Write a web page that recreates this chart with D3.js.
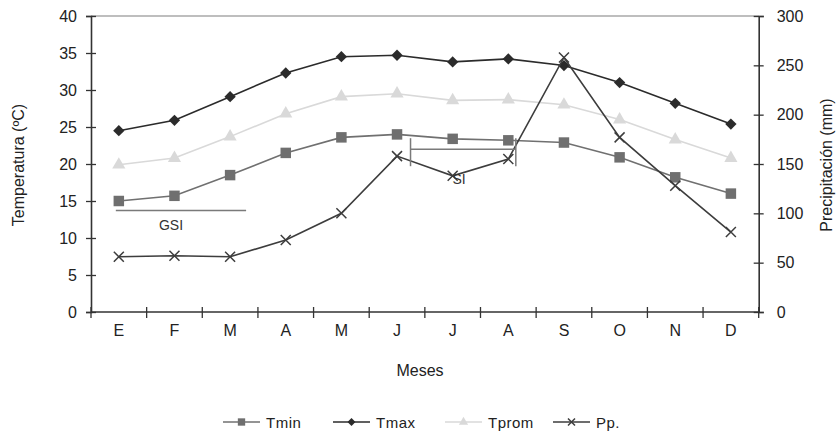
<!DOCTYPE html>
<html><head><meta charset="utf-8">
<script src="https://cdn.jsdelivr.net/npm/d3@7"></script>
<style>body{margin:0;background:#fff}svg{display:block;font-family:"Liberation Sans",Arial,sans-serif}</style>
</head><body>
<svg id="c" width="839" height="433"></svg>
<script>
const months = ["E","F","M","A","M","J","J","A","S","O","N","D"];
const tmin  = [15.0,15.7,18.5,21.5,23.6,24.0,23.4,23.2,22.9,20.9,18.2,16.0];
const tmax  = [24.5,25.9,29.1,32.3,34.5,34.7,33.8,34.2,33.3,31.0,28.2,25.4];
const tprom = [19.9,20.8,23.7,26.8,29.1,29.5,28.6,28.7,28.0,26.0,23.3,20.8];
const pp    = [56,57,56,73,100,158,138,155,258,177,128,81];
const tempTicks = [0,5,10,15,20,25,30,35,40];
const ppTicks = [0,50,100,150,200,250,300];

const svg = d3.select("#c");
const L = 91, R = 758.7, T = 16, B = 312;
const idx = months.map((d,i)=>i);
const x = d3.scaleBand().domain(idx).range([L,R]).padding(0);
const cx = i => x(i) + x.bandwidth()/2;
const yT = d3.scaleLinear().domain([0,40]).range([B,T]);
const yP = d3.scaleLinear().domain([0,300]).range([B,T]);
const axisCol = "#333";

// top border
svg.append("line").attr("x1",L).attr("x2",R).attr("y1",T).attr("y2",T).attr("stroke","#a8a8a8").attr("stroke-width",1.5);

// left axis
const gl = svg.append("g").attr("transform",`translate(${L},0)`)
  .call(d3.axisLeft(yT).tickValues(tempTicks).tickSize(5).tickPadding(9));
gl.selectAll(".tick line").attr("x1",-5).attr("x2",5);
// right axis
const gr = svg.append("g").attr("transform",`translate(${R},0)`)
  .call(d3.axisRight(yP).tickValues(ppTicks).tickSize(5).tickPadding(13));
gr.selectAll(".tick line").attr("x1",-5).attr("x2",5);
// bottom axis (labels)
const gb = svg.append("g").attr("transform",`translate(0,${B})`)
  .call(d3.axisBottom(x).tickFormat(i=>months[i]).tickSize(0).tickPadding(13));
[gl,gr,gb].forEach(g=>{
  g.select(".domain").attr("stroke",axisCol).attr("stroke-width",1.6);
  g.selectAll(".tick line").attr("stroke",axisCol).attr("stroke-width",1.3);
  g.selectAll("text").attr("font-size",16).attr("fill","#222").attr("font-family","Liberation Sans, Arial, sans-serif");
});
gb.select(".domain").attr("d",`M${L},0H${R}`);
// category boundary ticks
const bounds = d3.range(months.length+1).map(i=> L + i*x.step());
svg.append("g").selectAll("line").data(bounds).join("line")
  .attr("x1",d=>d).attr("x2",d=>d).attr("y1",B-5).attr("y2",B+6)
  .attr("stroke",axisCol).attr("stroke-width",1.3);

// titles
svg.append("text").attr("x",420).attr("y",376).attr("text-anchor","middle").attr("font-size",16).attr("fill","#222").text("Meses");
svg.append("text").attr("transform","translate(24,165) rotate(-90)").attr("text-anchor","middle").attr("font-size",16).attr("fill","#222").text("Temperatura (ºC)");
svg.append("text").attr("transform","translate(832,165) rotate(-90)").attr("text-anchor","middle").attr("font-size",16).attr("fill","#222").text("Precipitación (mm)");

// series
const series = [
  {name:"Tmin", data:tmin, y:yT, color:"#6f6f6f", stroke:"#707070", sym:d3.symbolSquare, size:110, rot:0},
  {name:"Tmax", data:tmax, y:yT, color:"#2b2b2b", stroke:"#2b2b2b", sym:d3.symbolSquare, size:64, rot:45},
  {name:"Tprom", data:tprom, y:yT, color:"#d9d9d9", stroke:"#d9d9d9", sym:d3.symbolTriangle, size:75, rot:0},
  {name:"Pp.", data:pp, y:yP, color:"#3d3d3d", stroke:"#3d3d3d", sym:null, size:0, rot:0}
];
const drawOrder = [2,0,1,3];
function marker(g, s, px, py, scale){
  if (s.name==="Pp.") {
    const r = 5*scale;
    g.append("path").attr("d",`M${px-r},${py-r}L${px+r},${py+r}M${px-r},${py+r}L${px+r},${py-r}`)
      .attr("stroke",s.color).attr("stroke-width",1.5).attr("fill","none");
  } else {
    g.append("path").attr("transform",`translate(${px},${py}) rotate(${s.rot})`)
      .attr("d",d3.symbol().type(s.sym).size(s.size*scale*scale)())
      .attr("fill",s.color);
  }
}
drawOrder.forEach(k=>{
  const s = series[k];
  const g = svg.append("g");
  g.append("path").datum(s.data)
    .attr("d",d3.line().x((d,i)=>cx(i)).y(d=>s.y(d)))
    .attr("fill","none").attr("stroke",s.stroke).attr("stroke-width",1.6);
  s.data.forEach((d,i)=>marker(g,s,cx(i),s.y(d),1));
});

// GSI annotation
const gsiY = yT(13.7);
svg.append("line").attr("x1",cx(0)-3).attr("x2",cx(2)+16).attr("y1",gsiY).attr("y2",gsiY).attr("stroke","#7a7a7a").attr("stroke-width",1.5);
svg.append("text").attr("x",171).attr("y",gsiY+19).attr("text-anchor","middle").attr("font-size",14).attr("fill","#333").text("GSI");
// SI annotation
const siY = yT(22.0), siL = cx(5)+13.5, siR = cx(7)+7.5;
const si = svg.append("g").attr("stroke","#7a7a7a").attr("stroke-width",1.5);
si.append("line").attr("x1",siL).attr("x2",siR).attr("y1",siY).attr("y2",siY);
si.append("line").attr("x1",siL).attr("x2",siL).attr("y1",siY-11).attr("y2",siY+17);
si.append("line").attr("x1",siR).attr("x2",siR).attr("y1",siY-11).attr("y2",siY+17);
svg.append("text").attr("x",459).attr("y",184).attr("text-anchor","middle").attr("font-size",14).attr("fill","#333").text("SI");

// legend
const legX = [223,333,445,553];
const legY = 422;
series.forEach((s,k)=>{
  const g = svg.append("g");
  const x0 = legX[k];
  g.append("line").attr("x1",x0).attr("x2",x0+37).attr("y1",legY).attr("y2",legY).attr("stroke",s.stroke).attr("stroke-width",1.6);
  marker(g,s,x0+18.5,legY,0.7);
  g.append("text").attr("x",x0+43).attr("y",legY+5.5).attr("font-size",15).attr("fill","#222").attr("letter-spacing",0.5).text(s.name);
});
</script>
</body></html>
